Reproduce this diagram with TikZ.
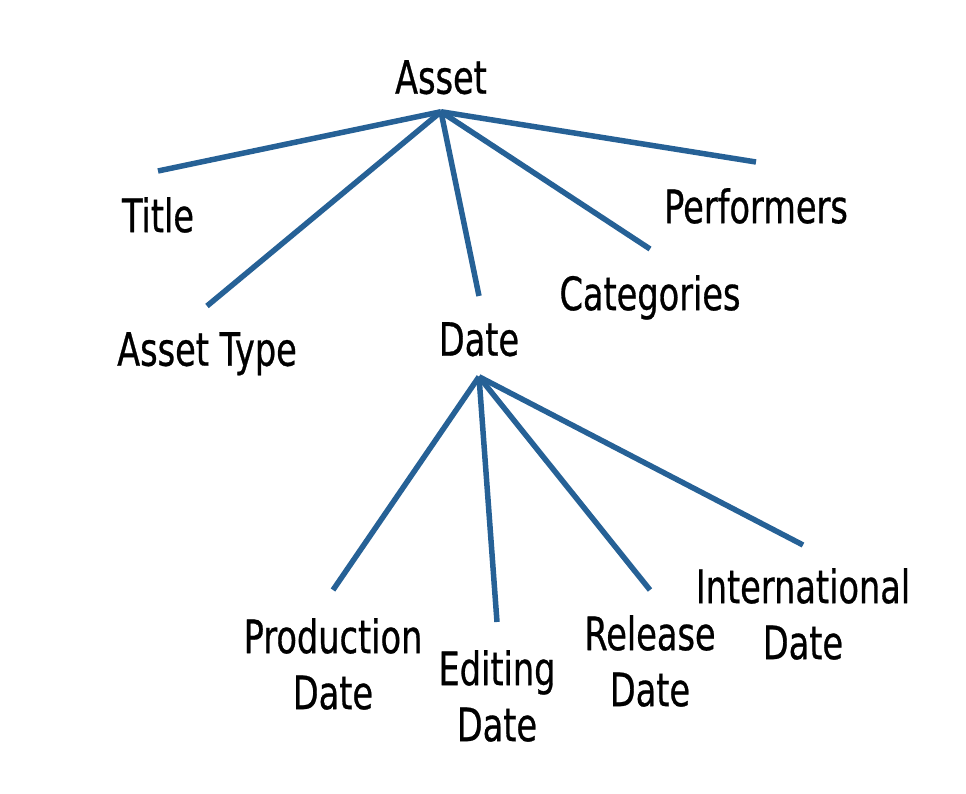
\documentclass[tikz,border=0pt]{standalone}
\usepackage{fontspec}
\setmainfont{DejaVu Sans}[FakeStretch=0.73, FakeBold=0.6]
\usetikzlibrary{positioning}
\definecolor{treeblue}{RGB}{38,97,150}
\tikzset{
x=1pt, y=-1pt, % one unit is one pixel of the reference, y runs down
every node/.style={font=\fontsize{46}{56}\selectfont, inner sep=0pt, align=center, anchor=north},
branch/.style={draw=treeblue, line width=5.5pt}, % the blue lines of the tree
}
\begin{document}
\begin{tikzpicture}
                \useasboundingbox (0,0) rectangle (966,794);
                % upper level
                \node (asset) at (441,60) {Asset};
                \node (title) at (158,197) {Title};
                \node (atype) at (207,332) {Asset Type};
                \node (date) at (479,322) {Date};
                \node (categories) at (650,275) {Categories};
                \node (performers) at (756,188) {Performers};
                % lower level
                \node (production) at (333,618) {Production\\Date};
                \node (editing) at (497,650) {Editing\\Date};
                \node (release) at (650,615) {Release\\Date};
                \node (intl) at (803,568) {International\\Date};
                \coordinate[below=18pt of asset.base] (asset hub);
                \coordinate[below=21pt of date.base] (date hub);
                \draw[branch]
                    (asset hub) edge ([yshift=26pt]title.north)
                    (asset hub) edge ([yshift=26pt]atype.north)
                    (asset hub) edge ([yshift=26pt]date.north)
                    (asset hub) edge ([yshift=26pt]categories.north)
                    (asset hub) edge ([yshift=26pt]performers.north)
                    (date hub) edge ([yshift=28pt]production.north)
                    (date hub) edge ([yshift=28pt]editing.north)
                    (date hub) edge ([yshift=25pt]release.north)
                    (date hub) edge ([yshift=23pt]intl.north)
                    ;
                \end{tikzpicture}
\end{document}
